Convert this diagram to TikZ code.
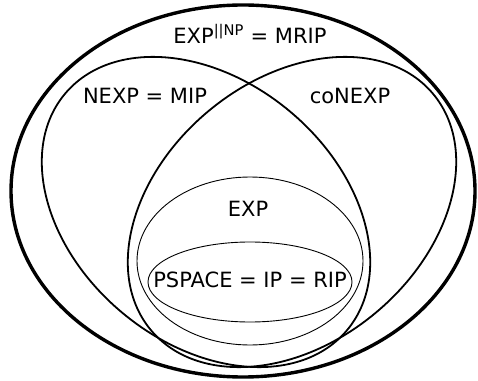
\documentclass[tikz,border=0pt]{standalone}
\usepackage{fontspec}
\setmainfont{DejaVu Sans}
\usepackage{tikz}
\usetikzlibrary{calc}

\begin{document}
\begin{tikzpicture}[x=1pt,y=1pt]

			\useasboundingbox (0, 0) rectangle (478, 380);
			\tikzset{lbl/.style={font=\fontsize{21}{24}\selectfont,inner sep=0}}

			\coordinate (o) at (243, 189);
			\coordinate (l) at (206, 168);
			\coordinate (r) at (292, 168);
			\coordinate (e) at (250, 119);
			\coordinate (p) at (250, 98);
			\draw[line width=3.4pt] (o) ellipse[x radius=232, y radius=186];
			\draw[line width=1.8pt,rotate around={-40:(l)}] (l) ellipse[x radius=184, y radius=131];
			\draw[line width=1.8pt,rotate around={40:(r)}] (r) ellipse[x radius=184, y radius=131];
			\draw[line width=0.9pt] (e) ellipse[x radius=113, y radius=84];
			\draw[line width=0.9pt] (p) ellipse[x radius=102, y radius=40];

			\node[lbl] (mrip) at (250, 346) {EXP\textsuperscript{||NP} = MRIP};
			\node[lbl] (mip) at (145, 284) {NEXP = MIP};
			\node[lbl] (conexp) at (350, 284) {coNEXP};
			\node[lbl] (exp) at (248, 171) {EXP};
			\node[lbl] (ip) at (250, 100) {PSPACE = IP = RIP};

		\end{tikzpicture}
\end{document}
